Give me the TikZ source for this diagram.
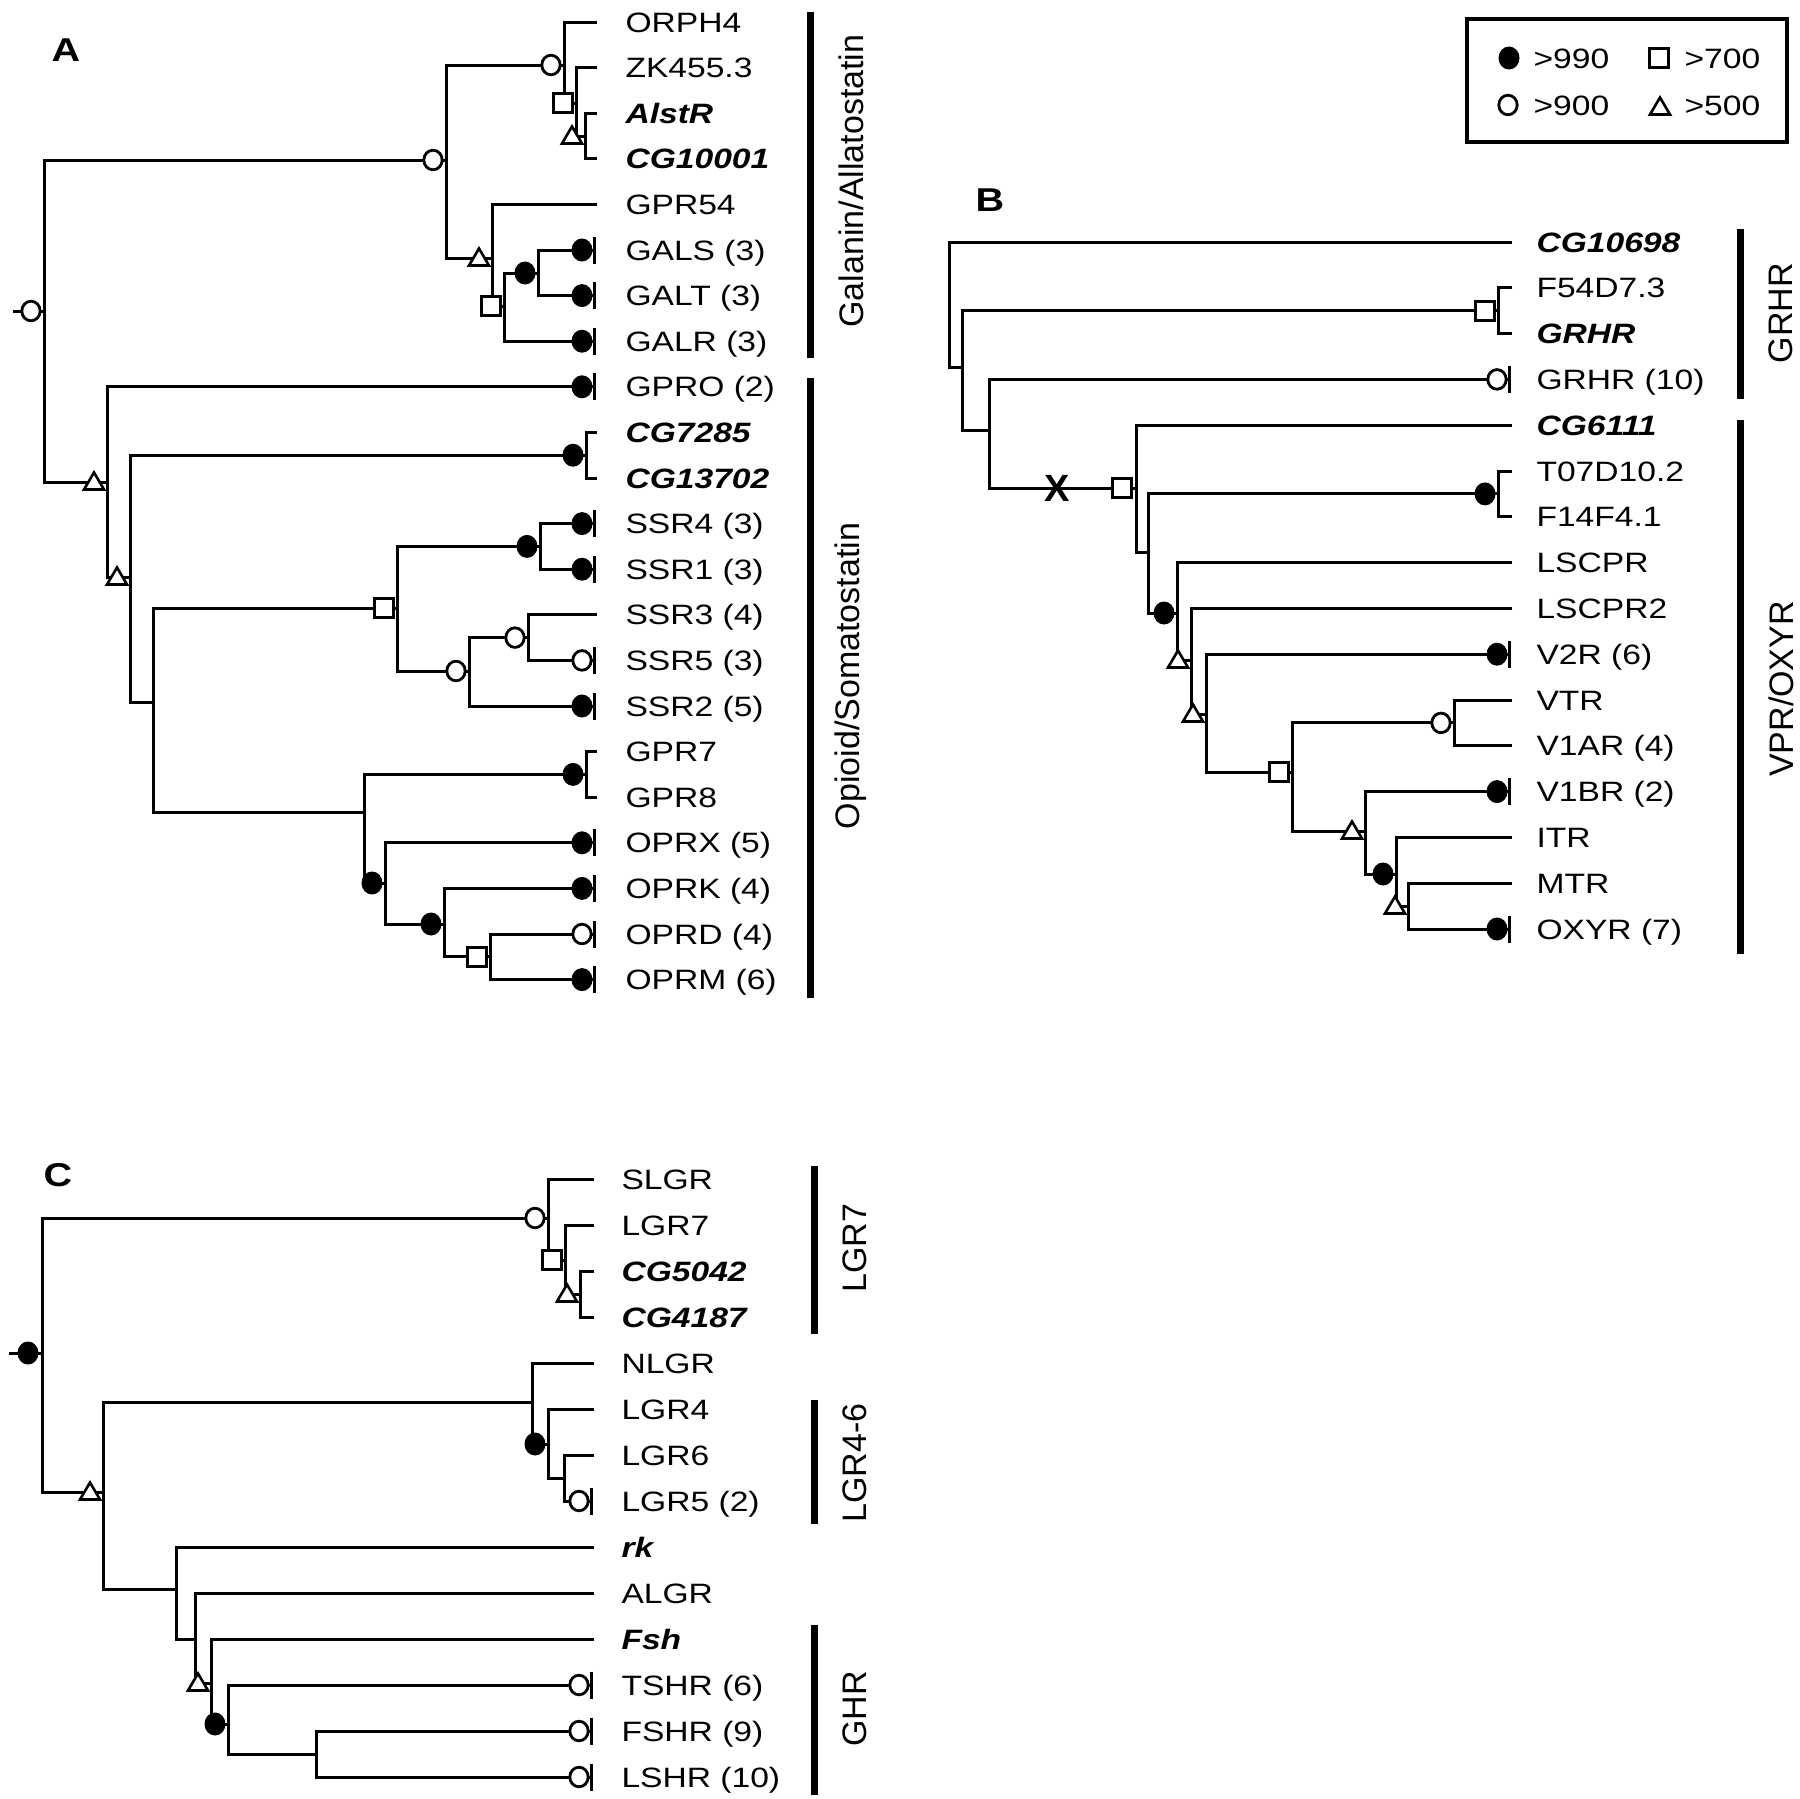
\documentclass[tikz,border=0pt]{standalone}
\usepackage{fontspec}
\setmainfont{Liberation Sans}[FakeStretch=1.2]
\newfontfamily\rotfont{Liberation Sans}
\newcommand\lfnode[5]{\coordinate (#1) at (#2,#3); \node[lab] (t#1) at (#4,#3) {#5};}
\newcommand\tipf[1]{\draw (#1) ++(0,-13.5) -- ++(0,27); \pic at ([xshift=-12pt]#1) {fdot};}
\newcommand\tipo[1]{\draw (#1) ++(0,-13.5) -- ++(0,27); \pic at ([xshift=-12pt]#1) {odot};}
\tikzset{
  lab/.style={anchor=base west, inner sep=0pt, yshift=-10pt, font=\fontsize{28}{30}\selectfont},
  blab/.style={lab, font=\fontsize{28}{30}\selectfont\bfseries\itshape},
  rl/.style={rotate=90, inner sep=0pt, font=\rotfont\fontsize{34}{34}\selectfont},
  plet/.style={inner sep=0pt, font=\fontsize{33}{33}\selectfont\bfseries},
  bar/.style={line width=7pt},
  fdot/.pic={\fill[black] (0,0) ellipse [x radius=10.5pt, y radius=11.5pt];},
  odot/.pic={\draw[line width=2.8pt, fill=white] (0,0) ellipse [x radius=9.2pt, y radius=9.8pt];},
  osq/.pic={\draw[line width=2.8pt, fill=white] (-9.5,-9.5) rectangle (9.5,9.5);},
  otri/.pic={\draw[line width=2.6pt, fill=white, line join=miter] (-10,7.5) -- (10,7.5) -- (0,-9.5) -- cycle;},
}
\begin{document}
\begin{tikzpicture}[x=1pt, y=-1pt, line width=3pt]
\useasboundingbox (0,0) rectangle (1800,1799);

%%%%%%%%%%%%%%%% PANEL A
\node[plet] (letA) at (66,50) {A};
\lfnode{A1}{597}{22}{624}{ORPH4}
\lfnode{A2}{597}{67.6}{624}{ZK455.3}
\coordinate (A3) at (597,113.2); \node[blab] (tA3) at (624,113.2) {AlstR};
\coordinate (A4) at (597,158.8); \node[blab] (tA4) at (624,158.8) {CG10001};
\lfnode{A5}{597}{204.4}{624}{GPR54}
\lfnode{A6}{594}{250}{624}{GALS (3)}
\lfnode{A7}{594}{295.6}{624}{GALT (3)}
\lfnode{A8}{594}{341.2}{624}{GALR (3)}
\lfnode{A9}{594}{386.8}{624}{GPRO (2)}
\coordinate (A10) at (597,432.4); \node[blab] (tA10) at (624,432.4) {CG7285};
\coordinate (A11) at (597,478); \node[blab] (tA11) at (624,478) {CG13702};
\lfnode{A12}{594}{523.6}{624}{SSR4 (3)}
\lfnode{A13}{594}{569.2}{624}{SSR1 (3)}
\lfnode{A14}{597}{614.8}{624}{SSR3 (4)}
\lfnode{A15}{594}{660.4}{624}{SSR5 (3)}
\lfnode{A16}{594}{706}{624}{SSR2 (5)}
\lfnode{A17}{597}{751.6}{624}{GPR7}
\lfnode{A18}{597}{797.2}{624}{GPR8}
\lfnode{A19}{594}{842.8}{624}{OPRX (5)}
\lfnode{A20}{594}{888.4}{624}{OPRK (4)}
\lfnode{A21}{594}{934}{624}{OPRD (4)}
\lfnode{A22}{594}{979.6}{624}{OPRM (6)}

\coordinate (rAs) at (13,311);
\coordinate (rA) at (44,311);
\coordinate (gA1) at (446,160);
\coordinate (nA1) at (564,65);
\coordinate (nA2) at (576,103);
\coordinate (nA3) at (585,136);
\coordinate (gA2) at (492,258);
\coordinate (gA3) at (504,306);
\coordinate (gA4) at (538,273);
\coordinate (oA1) at (107,482);
\coordinate (oA2) at (130,577);
\coordinate (cA) at (586,455.2);
\coordinate (oA3) at (153,702);
\coordinate (sA1) at (397,608);
\coordinate (sA2) at (540,546.4);
\coordinate (sA3) at (469,671);
\coordinate (sA4) at (528,637.6);
\coordinate (pA1) at (364,812);
\coordinate (gpA) at (586,774.4);
\coordinate (pA2) at (385,883);
\coordinate (pA3) at (444,924);
\coordinate (pA4) at (490,956.8);

\draw (rAs) -- (rA);
\draw (gA1) -| (rA |- oA1) -- (oA1);
\draw (nA1) -| (gA1 |- gA2) -- (gA2);
\draw (A1) -| (nA1 |- nA2) -- (nA2);
\draw (A2) -| (nA2 |- nA3) -- (nA3);
\draw (A3) -| (nA3 |- A4) -- (A4);
\draw (A5) -| (gA2 |- gA3) -- (gA3);
\draw (gA4) -| (gA3 |- A8) -- (A8);
\draw (A6) -| (gA4 |- A7) -- (A7);
\draw (A9) -| (oA1 |- oA2) -- (oA2);
\draw (cA) -| (oA2 |- oA3) -- (oA3);
\draw (A10) -| (cA |- A11) -- (A11);
\draw (sA1) -| (oA3 |- pA1) -- (pA1);
\draw (sA2) -| (sA1 |- sA3) -- (sA3);
\draw (A12) -| (sA2 |- A13) -- (A13);
\draw (sA4) -| (sA3 |- A16) -- (A16);
\draw (A14) -| (sA4 |- A15) -- (A15);
\draw (gpA) -| (pA1 |- pA2) -- (pA2);
\draw (A17) -| (gpA |- A18) -- (A18);
\draw (A19) -| (pA2 |- pA3) -- (pA3);
\draw (A20) -| (pA3 |- pA4) -- (pA4);
\draw (A21) -| (pA4 |- A22) -- (A22);

\pic at (31,311) {odot};
\pic at ([xshift=-13pt]gA1) {odot};
\pic at ([xshift=-13pt]nA1) {odot};
\pic at ([xshift=-13pt]nA2) {osq};
\pic at ([xshift=-13pt]nA3) {otri};
\pic at ([xshift=-13pt]gA2) {otri};
\pic at ([xshift=-13pt]gA3) {osq};
\pic at ([xshift=-13pt]gA4) {fdot};
\pic at ([xshift=-13pt]oA1) {otri};
\pic at ([xshift=-13pt]oA2) {otri};
\pic at ([xshift=-13pt]cA) {fdot};
\pic at ([xshift=-13pt]sA1) {osq};
\pic at ([xshift=-13pt]sA2) {fdot};
\pic at ([xshift=-13pt]sA3) {odot};
\pic at ([xshift=-13pt]sA4) {odot};
\pic at ([xshift=-13pt]gpA) {fdot};
\pic at ([xshift=-13pt]pA2) {fdot};
\pic at ([xshift=-13pt]pA3) {fdot};
\pic at ([xshift=-13pt]pA4) {osq};

\tipf{A6} \tipf{A7} \tipf{A8} \tipf{A9}
\tipf{A12} \tipf{A13} \tipo{A15} \tipf{A16}
\tipf{A19} \tipf{A20} \tipo{A21} \tipf{A22}

\draw[bar] (810,12) -- (810,358);
\draw[bar] (810,378) -- (810,998);
\node[rl] (labGal) at (851,181) {Galanin/Allatostatin};
\node[rl] (labOpi) at (851,676) {Opioid/Somatostatin};

%%%%%%%%%%%%%%%% LEGEND
\draw[line width=3.3pt] (1467,19) rectangle (1787,142);
\pic at (1509,58) {fdot};
\pic at (1659,58) {osq};
\pic at (1508,105) {odot};
\pic at (1660,107) {otri};
\node[lab] (lg1) at (1532,58) {>990};
\node[lab] (lg2) at (1683,58) {>700};
\node[lab] (lg3) at (1532,105) {>900};
\node[lab] (lg4) at (1683,105) {>500};

%%%%%%%%%%%%%%%% PANEL B
\node[plet] (letB) at (990,200) {B};
\coordinate (B1) at (1512,242); \node[blab] (tB1) at (1535,242) {CG10698};
\lfnode{B2}{1512}{287.8}{1535}{F54D7.3}
\coordinate (B3) at (1512,333.6); \node[blab] (tB3) at (1535,333.6) {GRHR};
\lfnode{B4}{1509}{379.4}{1535}{GRHR (10)}
\coordinate (B5) at (1512,425.2); \node[blab] (tB5) at (1535,425.2) {CG6111};
\lfnode{B6}{1512}{471}{1535}{T07D10.2}
\lfnode{B7}{1512}{516.8}{1535}{F14F4.1}
\lfnode{B8}{1512}{562.6}{1535}{LSCPR}
\lfnode{B9}{1512}{608.4}{1535}{LSCPR2}
\lfnode{B10}{1509}{654.2}{1535}{V2R (6)}
\lfnode{B11}{1512}{700}{1535}{VTR}
\lfnode{B12}{1512}{745.8}{1535}{V1AR (4)}
\lfnode{B13}{1509}{791.6}{1535}{V1BR (2)}
\lfnode{B14}{1512}{837.4}{1535}{ITR}
\lfnode{B15}{1512}{883.2}{1535}{MTR}
\lfnode{B16}{1509}{929}{1535}{OXYR (7)}

\coordinate (rB) at (949,305);
\coordinate (bB1) at (962,367);
\coordinate (fB) at (1498,310.7);
\coordinate (bB2) at (989,430);
\coordinate (bB3) at (1136,488);
\coordinate (bB4) at (1148,552);
\coordinate (tB) at (1498,493.9);
\coordinate (bB5) at (1177,613);
\coordinate (bB6) at (1191,660);
\coordinate (bB7) at (1206,714);
\coordinate (bB8) at (1292,772);
\coordinate (bB9) at (1454,722.9);
\coordinate (bB10) at (1365,831);
\coordinate (bB11) at (1396,874);
\coordinate (bB12) at (1408,906);

\draw (B1) -| (rB |- bB1) -- (bB1);
\draw (fB) -| (bB1 |- bB2) -- (bB2);
\draw (B2) -| (fB |- B3) -- (B3);
\draw (B4) -| (bB2 |- bB3) -- (bB3);
\draw (B5) -| (bB3 |- bB4) -- (bB4);
\draw (tB) -| (bB4 |- bB5) -- (bB5);
\draw (B6) -| (tB |- B7) -- (B7);
\draw (B8) -| (bB5 |- bB6) -- (bB6);
\draw (B9) -| (bB6 |- bB7) -- (bB7);
\draw (B10) -| (bB7 |- bB8) -- (bB8);
\draw (bB9) -| (bB8 |- bB10) -- (bB10);
\draw (B11) -| (bB9 |- B12) -- (B12);
\draw (B13) -| (bB10 |- bB11) -- (bB11);
\draw (B14) -| (bB11 |- bB12) -- (bB12);
\draw (B15) -| (bB12 |- B16) -- (B16);

\node[inner sep=0pt, font=\rotfont\bfseries\fontsize{38}{38}\selectfont] (xm) at (1057,488) {X};
\pic at ([xshift=-13pt]fB) {osq};
\pic at ([xshift=-14pt]bB3) {osq};
\pic at ([xshift=-13pt]tB) {fdot};
\pic at ([xshift=-13pt]bB5) {fdot};
\pic at ([xshift=-13pt]bB6) {otri};
\pic at ([xshift=-13pt]bB7) {otri};
\pic at ([xshift=-13pt]bB8) {osq};
\pic at ([xshift=-13pt]bB9) {odot};
\pic at ([xshift=-13pt]bB10) {otri};
\pic at ([xshift=-13pt]bB11) {fdot};
\pic at ([xshift=-13pt]bB12) {otri};

\tipo{B4} \tipf{B10} \tipf{B13} \tipf{B16}

\draw[bar] (1740,229) -- (1740,399);
\draw[bar] (1740,420) -- (1740,954);
\node[rl] (labGRHR) at (1781,313) {GRHR};
\node[rl] (labVPR) at (1781,689) {VPR/OXYR};

%%%%%%%%%%%%%%%% PANEL C
\node[plet] (letC) at (58,1175) {C};
\lfnode{C1}{594}{1179}{620}{SLGR}
\lfnode{C2}{594}{1225}{620}{LGR7}
\coordinate (C3) at (594,1271); \node[blab] (tC3) at (620,1271) {CG5042};
\coordinate (C4) at (594,1317); \node[blab] (tC4) at (620,1317) {CG4187};
\lfnode{C5}{594}{1363}{620}{NLGR}
\lfnode{C6}{594}{1409}{620}{LGR4}
\lfnode{C7}{594}{1455}{620}{LGR6}
\lfnode{C8}{591}{1501}{620}{LGR5 (2)}
\coordinate (C9) at (594,1547); \node[blab] (tC9) at (620,1547) {rk};
\lfnode{C10}{594}{1593}{620}{ALGR}
\coordinate (C11) at (594,1639); \node[blab] (tC11) at (620,1639) {Fsh};
\lfnode{C12}{591}{1685}{620}{TSHR (6)}
\lfnode{C13}{591}{1731}{620}{FSHR (9)}
\lfnode{C14}{591}{1777}{620}{LSHR (10)}

\coordinate (rCs) at (9,1353);
\coordinate (rC) at (42,1353);
\coordinate (cC1) at (548,1218);
\coordinate (cC2) at (565,1260);
\coordinate (cC3) at (580,1294);
\coordinate (cC4) at (103,1492);
\coordinate (cC5) at (532,1402);
\coordinate (cC6) at (548,1444);
\coordinate (cC7) at (564,1478);
\coordinate (cC8) at (176,1589);
\coordinate (cC9) at (195,1639);
\coordinate (cC10) at (211,1683);
\coordinate (cC11) at (228,1724);
\coordinate (cC12) at (316,1754);

\draw (rCs) -- (rC);
\draw (cC1) -| (rC |- cC4) -- (cC4);
\draw (C1) -| (cC1 |- cC2) -- (cC2);
\draw (C2) -| (cC2 |- cC3) -- (cC3);
\draw (C3) -| (cC3 |- C4) -- (C4);
\draw (cC5) -| (cC4 |- cC8) -- (cC8);
\draw (C5) -| (cC5 |- cC6) -- (cC6);
\draw (C6) -| (cC6 |- cC7) -- (cC7);
\draw (C7) -| (cC7 |- C8) -- (C8);
\draw (C9) -| (cC8 |- cC9) -- (cC9);
\draw (C10) -| (cC9 |- cC10) -- (cC10);
\draw (C11) -| (cC10 |- cC11) -- (cC11);
\draw (C12) -| (cC11 |- cC12) -- (cC12);
\draw (C13) -| (cC12 |- C14) -- (C14);

\pic at (28,1353) {fdot};
\pic at ([xshift=-13pt]cC1) {odot};
\pic at ([xshift=-13pt]cC2) {osq};
\pic at ([xshift=-13pt]cC3) {otri};
\pic at ([xshift=-13pt]cC4) {otri};
\pic at ([xshift=-13pt]cC6) {fdot};
\pic at ([xshift=-13pt]cC10) {otri};
\pic at ([xshift=-13pt]cC11) {fdot};

\tipo{C8} \tipo{C12} \tipo{C13} \tipo{C14}

\draw[bar] (814,1166) -- (814,1334);
\draw[bar] (814,1400) -- (814,1524);
\draw[bar] (814,1625) -- (814,1795);
\node[rl] (labLGR7) at (855,1248) {LGR7};
\node[rl] (labLGR46) at (855,1463) {LGR4-6};
\node[rl] (labGHR) at (855,1709) {GHR};
\end{tikzpicture}
\end{document}
